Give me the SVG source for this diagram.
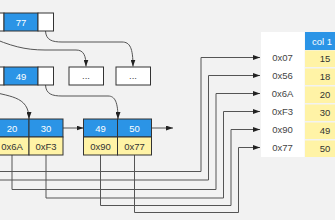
<svg xmlns="http://www.w3.org/2000/svg" width="335" height="220" viewBox="0 0 335 220">
<style>
.bg{fill:#f2f2f2}
.k{fill:#2b94e6;stroke:#333;stroke-width:1}
.w{fill:#ffffff;stroke:#333;stroke-width:1}
.y{fill:#fff3a6;stroke:#333;stroke-width:1}
.kt{font-family:"Liberation Sans",Arial,sans-serif;font-size:9.5px;fill:#ffffff;text-anchor:middle}
.yt{font-family:"Liberation Sans",Arial,sans-serif;font-size:9.5px;fill:#333;text-anchor:middle}
.tt{font-family:"Liberation Sans",Arial,sans-serif;font-size:9.5px;fill:#444;text-anchor:middle}
.c{fill:none;stroke:#555;stroke-width:1}
</style>
<defs>
<marker id="ah" viewBox="0 0 7 5" refX="7" refY="2.5" markerWidth="7" markerHeight="5" markerUnits="userSpaceOnUse" orient="auto">
<path d="M0,0 L7,2.5 L0,5 z" fill="#222"/>
</marker>
</defs>
<rect class="bg" x="0" y="0" width="335" height="220"/>

<g id="connectors">
<path class="c" marker-end="url(#ah)" d="M -12 36 C 10 46, 25 50, 45 50 L 76 50 C 84 50, 86 56, 86 66.5"/>
<path class="c" marker-end="url(#ah)" d="M 45.5 31 C 46 40, 52 42, 62 42 L 122 42 C 130 42, 133 48, 133 66.5"/>
<path class="c" marker-end="url(#ah)" d="M 45.5 85 C 46 94, 52 96, 62 96 L 108 96 C 115 96, 118 102, 118 119"/>
<path class="c" marker-end="url(#ah)" d="M -14 90 C 8 97, 29 95, 29 119"/>
<path class="c" marker-end="url(#ah)" d="M 63 128 L 83.5 128"/>
<path class="c" marker-end="url(#ah)" d="M 151.5 128 L 173 128"/>
<path class="c" marker-end="url(#ah)" d="M -2 171.5 L 201 171.5 L 201 57.5 L 260 57.5"/>
<path class="c" marker-end="url(#ah)" d="M -2 180 L 208.5 180 L 208.5 75.5 L 260 75.5"/>
<path class="c" marker-end="url(#ah)" d="M 12 155 L 12 189.5 L 216 189.5 L 216 93.5 L 260 93.5"/>
<path class="c" marker-end="url(#ah)" d="M 46 155 L 46 198 L 223.5 198 L 223.5 111.5 L 260 111.5"/>
<path class="c" marker-end="url(#ah)" d="M 100.5 155 L 100.5 205.5 L 231 205.5 L 231 129.5 L 260 129.5"/>
<path class="c" marker-end="url(#ah)" d="M 134.5 155 L 134.5 212.5 L 238.5 212.5 L 238.5 147.5 L 260 147.5"/>
</g>

<g id="node-top">
<rect class="w" x="-11" y="13" width="15" height="18"/>
<rect class="k" x="4" y="13" width="34" height="18"/>
<rect class="w" x="38" y="13" width="15.5" height="18"/>
<text class="kt" x="21" y="25.5">77</text>
</g>

<g id="node-mid">
<rect class="w" x="-11" y="67" width="15" height="18"/>
<rect class="k" x="4" y="67" width="34" height="18"/>
<rect class="w" x="38" y="67" width="15.5" height="18"/>
<text class="kt" x="21" y="79.5">49</text>
</g>

<g id="node-dots1">
<rect class="w" x="69" y="67" width="34.5" height="18"/>
<text class="tt" x="86" y="79">...</text>
</g>

<g id="node-dots2">
<rect class="w" x="116" y="67" width="34.5" height="18"/>
<text class="tt" x="133" y="79">...</text>
</g>

<g id="leaf-1">
<rect class="k" x="-5" y="119" width="34" height="18"/>
<rect class="k" x="29" y="119" width="34" height="18"/>
<rect class="y" x="-5" y="137" width="34" height="18"/>
<rect class="y" x="29" y="137" width="34" height="18"/>
<text class="kt" x="12" y="131.5">20</text>
<text class="kt" x="46" y="131.5">30</text>
<text class="yt" x="12" y="149.5">0x6A</text>
<text class="yt" x="46" y="149.5">0xF3</text>
</g>

<g id="leaf-2">
<rect class="k" x="83.5" y="119" width="34" height="18"/>
<rect class="k" x="117.5" y="119" width="34" height="18"/>
<rect class="y" x="83.5" y="137" width="34" height="18"/>
<rect class="y" x="117.5" y="137" width="34" height="18"/>
<text class="kt" x="100.5" y="131.5">49</text>
<text class="kt" x="134.5" y="131.5">50</text>
<text class="yt" x="100.5" y="149.5">0x90</text>
<text class="yt" x="134.5" y="149.5">0x77</text>
</g>

<g id="table">
<rect x="261" y="32" width="43.5" height="125" fill="#ffffff"/>
<rect x="305" y="32" width="32" height="18" fill="#2b94e6"/>
<text class="kt" x="322" y="44.5">col 1</text>
<rect x="305" y="50.5" width="32" height="16.5" fill="#fff3a6"/>
<rect x="305" y="68.5" width="32" height="16.5" fill="#fff3a6"/>
<rect x="305" y="86.5" width="32" height="16.5" fill="#fff3a6"/>
<rect x="305" y="104.5" width="32" height="16.5" fill="#fff3a6"/>
<rect x="305" y="122.5" width="32" height="16.5" fill="#fff3a6"/>
<rect x="305" y="140.5" width="32" height="16.5" fill="#fff3a6"/>
<text class="tt" x="282.5" y="61">0x07</text>
<text class="tt" x="282.5" y="79">0x56</text>
<text class="tt" x="282.5" y="97">0x6A</text>
<text class="tt" x="282.5" y="115">0xF3</text>
<text class="tt" x="282.5" y="133">0x90</text>
<text class="tt" x="282.5" y="151">0x77</text>
<text class="yt" x="325" y="62">15</text>
<text class="yt" x="325" y="80">18</text>
<text class="yt" x="325" y="98">20</text>
<text class="yt" x="325" y="116">30</text>
<text class="yt" x="325" y="134">49</text>
<text class="yt" x="325" y="152">50</text>
</g>
</svg>
